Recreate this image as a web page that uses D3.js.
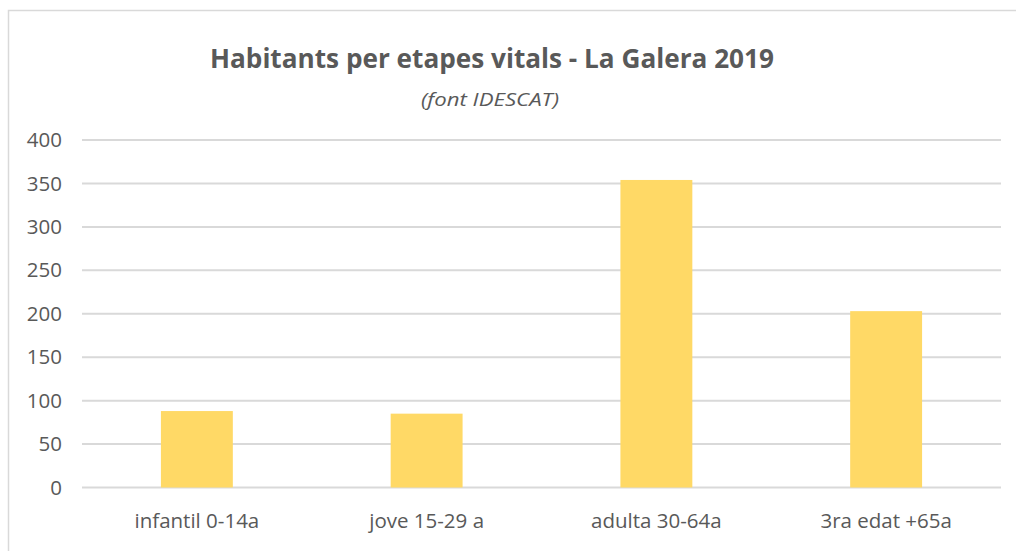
<!DOCTYPE html>
<html>
<head>
<meta charset="utf-8">
<script src="https://cdn.jsdelivr.net/npm/d3@7"></script>
<style>
  html, body { margin: 0; padding: 0; background: #ffffff; }
  svg { display: block; }
</style>
</head>
<body>
<svg id="chart" width="1016" height="551"></svg>
<script>
const categories = ["infantil 0-14a", "jove 15-29 a", "adulta 30-64a", "3ra edat +65a"];
const values = [88, 85, 354, 203];
const yTicks = [0, 50, 100, 150, 200, 250, 300, 350, 400];
const titleText = "Habitants per etapes vitals - La Galera 2019";
const subtitleText = "(font IDESCAT)";

const svg = d3.select("#chart");
const W = 1016, H = 551;
const textColor = "#595959";
const gridColor = "#d9d9d9";
const font = "'Open Sans', 'Noto Sans', sans-serif";

svg.append("rect").attr("width", W).attr("height", H).attr("fill", "#fff");

// chart area border (extends beyond the viewport on right and bottom)
svg.append("rect")
  .attr("x", 8.5).attr("y", 10.5)
  .attr("width", W + 20).attr("height", H + 20)
  .attr("fill", "none").attr("stroke", gridColor).attr("stroke-width", 1.5);

const x = d3.scaleBand()
  .domain(categories)
  .range([82, 1001])
  .paddingInner(0.687)
  .paddingOuter(0.3435);

const y = d3.scaleLinear()
  .domain([0, 400])
  .range([487.5, 140]);

// gridlines
svg.append("g")
  .selectAll("line")
  .data(yTicks)
  .join("line")
  .attr("x1", 82).attr("x2", 1001)
  .attr("y1", d => y(d)).attr("y2", d => y(d))
  .attr("stroke", gridColor).attr("stroke-width", 2);

// y axis labels
const yAxis = d3.axisLeft(y).tickValues(yTicks).tickSize(0).tickPadding(20);
const gy = svg.append("g").attr("transform", "translate(82,0)").call(yAxis);
gy.select(".domain").remove();
gy.selectAll("text")
  .attr("fill", textColor)
  .style("font-family", font)
  .style("font-size", "20.5px");

// bars
svg.append("g")
  .selectAll("rect")
  .data(values)
  .join("rect")
  .attr("x", (d, i) => x(categories[i]))
  .attr("width", x.bandwidth())
  .attr("y", d => y(d))
  .attr("height", d => y(0) - y(d))
  .attr("fill", "#FFD966");

// x axis labels
const xAxis = d3.axisBottom(x).tickSize(0).tickPadding(0);
const gx = svg.append("g").attr("transform", "translate(0,488)").call(xAxis);
gx.select(".domain").remove();
gx.selectAll("text")
  .attr("dy", null)
  .attr("y", 40)
  .attr("fill", textColor)
  .style("font-family", font)
  .style("font-size", "20.5px");

// title
const title = svg.append("text")
  .attr("x", 492).attr("y", 67.5)
  .attr("text-anchor", "middle")
  .attr("fill", textColor)
  .style("font-family", font)
  .style("font-weight", "bold")
  .style("font-size", "26.5px")
  .text(titleText);
const tw = title.node().getComputedTextLength();
if (tw > 564) title.attr("textLength", 564).attr("lengthAdjust", "spacingAndGlyphs");

const sub = svg.append("text")
  .attr("x", 490).attr("y", 106)
  .attr("text-anchor", "middle")
  .attr("fill", textColor)
  .style("font-family", font)
  .style("font-style", "italic")
  .style("font-size", "19px")
  .text(subtitleText);
const sw = sub.node().getComputedTextLength();
if (Math.abs(sw - 138) > 3) sub.attr("textLength", 138).attr("lengthAdjust", "spacingAndGlyphs");
</script>
</body>
</html>
